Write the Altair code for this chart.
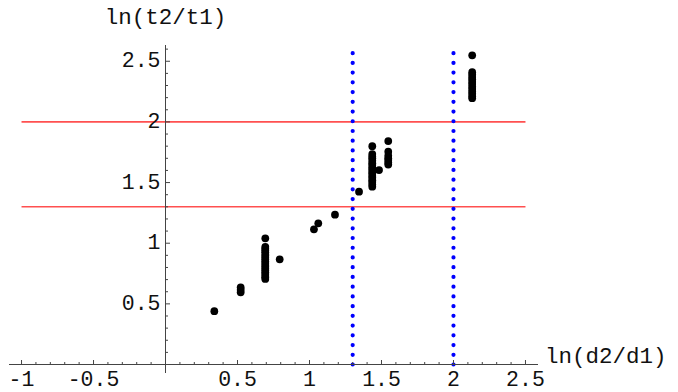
import altair as alt
import pandas as pd

# Plot range of the frame (axes run across the full range)
X_RANGE = [-1.087, 2.587]
Y_RANGE = [-0.07, 2.634]

# Measured points: one x per group, several y values per group
GROUP_X = [0.339, 0.522, 0.693, 0.793, 1.031, 1.061, 1.177, 1.344, 1.436, 1.483, 1.547, 2.130]
GROUP_Y = [
    [0.44],
    [0.595, 0.616, 0.636],
    [1.04, 0.97, 0.955, 0.94, 0.925, 0.912, 0.896, 0.88, 0.866, 0.85, 0.836,
     0.82, 0.806, 0.79, 0.776, 0.76, 0.746, 0.73, 0.717, 0.705],
    [0.867],
    [1.115],
    [1.164],
    [1.235],
    [1.425],
    [1.80, 1.735, 1.715, 1.70, 1.68, 1.66, 1.645, 1.625, 1.61, 1.59, 1.575,
     1.555, 1.54, 1.52, 1.505, 1.485, 1.466],
    [1.603],
    [1.842, 1.754, 1.72, 1.70, 1.685, 1.665, 1.648],
    [2.549, 2.41, 2.39, 2.37, 2.352, 2.33, 2.312, 2.29, 2.272, 2.25, 2.232,
     2.212, 2.195],
]

# Threshold lines
H_LEVELS = [1.3, 2.0]
H_SPAN = [-1.0, 2.5]
V_LEVELS = [1.3, 2.0]
V_SPAN = [0.0, 2.6]

# Axis ticks and labels
X_MAJOR = [-1.0, -0.5, 0.5, 1.0, 1.5, 2.0, 2.5]
X_LABELS = ["-1", "-0.5", "0.5", "1", "1.5", "2", "2.5"]
X_MINOR = [-0.9, -0.8, -0.7, -0.6, -0.4, -0.3, -0.2, -0.1, 0.1, 0.2, 0.3, 0.4,
           0.6, 0.7, 0.8, 0.9, 1.1, 1.2, 1.3, 1.4, 1.6, 1.7, 1.8, 1.9,
           2.1, 2.2, 2.3, 2.4]
Y_MAJOR = [0.5, 1.0, 1.5, 2.0, 2.5]
Y_LABELS = ["0.5", "1", "1.5", "2", "2.5"]
Y_MINOR = [0.1, 0.2, 0.3, 0.4, 0.6, 0.7, 0.8, 0.9, 1.1, 1.2, 1.3, 1.4,
           1.6, 1.7, 1.8, 1.9, 2.1, 2.2, 2.3, 2.4, 2.6]

X_TITLE = "ln(d2/d1)"
Y_TITLE = "ln(t2/t1)"

FONT = "Liberation Mono"
FS_TICK = 21.5
FS_TITLE = 22.5
TEXT_COLOR = "#111111"
AXIS_COLOR = "#444444"

xs = alt.Scale(domain=X_RANGE, nice=False, zero=False)
ys = alt.Scale(domain=Y_RANGE, nice=False, zero=False)

pts = pd.DataFrame(
    [(gx, gy) for gx, ylist in zip(GROUP_X, GROUP_Y) for gy in ylist],
    columns=["x", "y"],
)

points = alt.Chart(pts).mark_circle(size=60, color="black", opacity=1).encode(
    x=alt.X("x:Q", scale=xs, axis=None),
    y=alt.Y("y:Q", scale=ys, axis=None),
)

red = alt.Chart(pd.DataFrame({"y": H_LEVELS})).mark_rule(
    color="#ff5050", strokeWidth=1.6
).encode(
    y=alt.Y("y:Q", scale=ys, axis=None),
    x=alt.XDatum(H_SPAN[0], scale=xs, axis=None),
    x2=alt.X2Datum(H_SPAN[1]),
)

blue = alt.Chart(pd.DataFrame({"x": V_LEVELS})).mark_rule(
    color="#0000ff", strokeWidth=4.2, strokeDash=[0.01, 9.72], strokeCap="round"
).encode(
    x=alt.X("x:Q", scale=xs, axis=None),
    y=alt.YDatum(V_SPAN[0], scale=ys, axis=None),
    y2=alt.Y2Datum(V_SPAN[1]),
)

x_axis_line = alt.Chart(pd.DataFrame({"a": [0]})).mark_rule(
    color=AXIS_COLOR, strokeWidth=1
).encode(
    x=alt.XDatum(X_RANGE[0], scale=xs, axis=None),
    x2=alt.X2Datum(X_RANGE[1]),
    y=alt.YDatum(0, scale=ys, axis=None),
)

y_axis_line = alt.Chart(pd.DataFrame({"a": [0]})).mark_rule(
    color=AXIS_COLOR, strokeWidth=1
).encode(
    y=alt.YDatum(Y_RANGE[0], scale=ys, axis=None),
    y2=alt.Y2Datum(Y_RANGE[1]),
    x=alt.XDatum(0, scale=xs, axis=None),
)


def x_ticks(values, length):
    return alt.Chart(pd.DataFrame({"x": values})).mark_tick(
        orient="vertical", size=length, thickness=1, yOffset=-length / 2,
        color=AXIS_COLOR, opacity=1,
    ).encode(
        x=alt.X("x:Q", scale=xs, axis=None),
        y=alt.YDatum(0, scale=ys, axis=None),
    )


def y_ticks(values, length):
    return alt.Chart(pd.DataFrame({"y": values})).mark_tick(
        orient="horizontal", size=length, thickness=1, xOffset=length / 2,
        color=AXIS_COLOR, opacity=1,
    ).encode(
        y=alt.Y("y:Q", scale=ys, axis=None),
        x=alt.XDatum(0, scale=xs, axis=None),
    )


x_labels = alt.Chart(pd.DataFrame({"x": X_MAJOR, "t": X_LABELS})).mark_text(
    font=FONT, fontSize=FS_TICK, color=TEXT_COLOR, align="center",
    baseline="alphabetic", dy=21
).encode(
    x=alt.X("x:Q", scale=xs, axis=None),
    y=alt.YDatum(0, scale=ys, axis=None),
    text="t:N",
)

y_labels = alt.Chart(pd.DataFrame({"y": Y_MAJOR, "t": Y_LABELS})).mark_text(
    font=FONT, fontSize=FS_TICK, color=TEXT_COLOR, align="right", baseline="middle", dx=-5
).encode(
    y=alt.Y("y:Q", scale=ys, axis=None),
    x=alt.XDatum(0, scale=xs, axis=None),
    text="t:N",
)

x_title = alt.Chart(pd.DataFrame({"t": [X_TITLE]})).mark_text(
    font=FONT, fontSize=FS_TITLE, color=TEXT_COLOR, align="left", baseline="middle", dx=7, dy=-9
).encode(
    x=alt.XDatum(X_RANGE[1], scale=xs, axis=None),
    y=alt.YDatum(0, scale=ys, axis=None),
    text="t:N",
)

y_title = alt.Chart(pd.DataFrame({"t": [Y_TITLE]})).mark_text(
    font=FONT, fontSize=FS_TITLE, color=TEXT_COLOR, align="center", baseline="middle", dy=-28
).encode(
    x=alt.XDatum(0, scale=xs, axis=None),
    y=alt.YDatum(Y_RANGE[1], scale=ys, axis=None),
    text="t:N",
)

chart = alt.layer(
    red, blue, x_axis_line, y_axis_line,
    x_ticks(X_MAJOR, 4.5), x_ticks(X_MINOR, 2.5),
    y_ticks(Y_MAJOR, 4.5), y_ticks(Y_MINOR, 2.5),
    points, x_labels, y_labels, x_title, y_title,
).properties(
    width=529,
    height=328,
    autosize=alt.AutoSizeParams(type="none"),
    padding={"left": 9, "top": 45, "right": 140, "bottom": 19},
    background="white",
).configure_view(strokeWidth=0)

chart.save("out.html", embed_options={"renderer": "svg", "actions": False})
